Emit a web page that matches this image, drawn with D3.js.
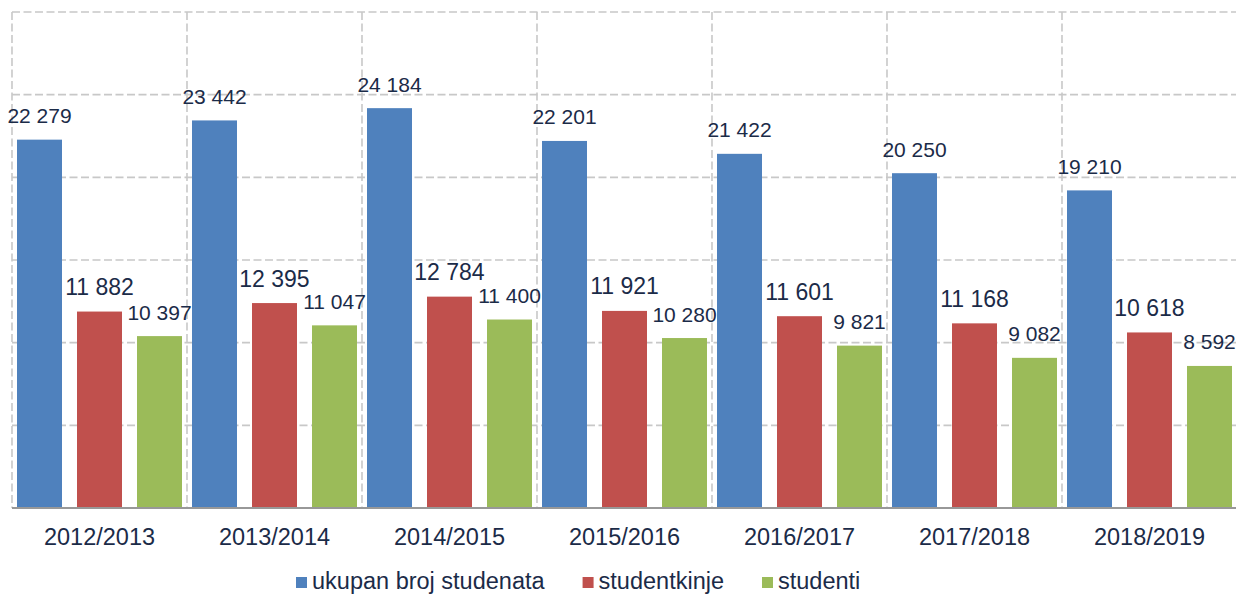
<!DOCTYPE html>
<html>
<head>
<meta charset="utf-8">
<script src="https://cdn.jsdelivr.net/npm/d3@7"></script>
<style>
  body { margin: 0; background: #fff; }
  text { font-family: "Liberation Sans", Arial, sans-serif; fill: #1b2b48; }
</style>
</head>
<body>
<div id="chart"></div>
<script>
// chart data
var categories = ["2012/2013", "2013/2014", "2014/2015", "2015/2016", "2016/2017", "2017/2018", "2018/2019"];
var seriesNames = ["ukupan broj studenata", "studentkinje", "studenti"];
var ukupno = [22279, 23442, 24184, 22201, 21422, 20250, 19210];
var studentkinje = [11882, 12395, 12784, 11921, 11601, 11168, 10618];
var studenti = [10397, 11047, 11400, 10280, 9821, 9082, 8592];
var yTicks = [0, 5000, 10000, 15000, 20000, 25000, 30000];

function init() {
    var w = 1236, h = 594;
    var left = 12, top = 12, right = 1237, bottom = 508;
    var colors = ["#4f81bd", "#c0504d", "#9bbb59"];
    var seriesValues = [ukupno, studentkinje, studenti];
    var labelSizes = ["21px", "23px", "21px"];

    var svg = d3.select("#chart").append("svg")
        .attr("width", w)
        .attr("height", h);

    var x = d3.scaleBand()
        .domain(categories)
        .range([left, right]);

    var xInner = d3.scaleBand()
        .domain(seriesNames)
        .range([5, x.bandwidth() - 5])
        .paddingInner(0.25);

    var y = d3.scaleLinear()
        .domain([0, 30000])
        .range([bottom, top]);

    var fmt = d3.formatLocale({ thousands: " ", grouping: [3], decimal: ",", currency: ["", ""] }).format(",d");

    // dashed grid
    var grid = svg.append("g");
    grid.selectAll("line.h")
        .data(yTicks.slice(1))
        .enter().append("line")
        .attr("x1", left).attr("x2", right)
        .attr("y1", d => y(d)).attr("y2", d => y(d))
        .attr("stroke", "#c8c8c8")
        .attr("stroke-width", 1.6)
        .attr("stroke-dasharray", "8,3.5");
    grid.selectAll("line.v")
        .data(categories.map(c => x(c)).concat([right]))
        .enter().append("line")
        .attr("x1", d => d).attr("x2", d => d)
        .attr("y1", top).attr("y2", bottom)
        .attr("stroke", "#c8c8c8")
        .attr("stroke-width", 1.6)
        .attr("stroke-dasharray", "8,3.5");

    // bars
    seriesNames.forEach(function(name, si) {
        var vals = seriesValues[si];
        var g = svg.append("g");
        g.selectAll("rect")
            .data(categories)
            .enter().append("rect")
            .attr("x", (c) => x(c) + xInner(name))
            .attr("width", xInner.bandwidth())
            .attr("y", (c, i) => y(vals[i]))
            .attr("height", (c, i) => bottom - y(vals[i]))
            .attr("fill", colors[si]);

        g.selectAll("text")
            .data(categories)
            .enter().append("text")
            .attr("x", (c) => x(c) + xInner(name) + xInner.bandwidth() / 2)
            .attr("y", (c, i) => y(vals[i]) - 16.5)
            .attr("text-anchor", "middle")
            .style("font-size", labelSizes[si])
            .text((c, i) => fmt(vals[i]));
    });

    // baseline
    svg.append("line")
        .attr("x1", left).attr("x2", right)
        .attr("y1", bottom).attr("y2", bottom)
        .attr("stroke", "#989898")
        .attr("stroke-width", 2);

    // category labels
    svg.append("g").selectAll("text")
        .data(categories)
        .enter().append("text")
        .attr("x", d => x(d) + x.bandwidth() / 2)
        .attr("y", 545)
        .attr("text-anchor", "middle")
        .style("font-size", "23.5px")
        .text(d => d);

    // legend
    var legend = svg.append("g");
    var lx = 296;
    seriesNames.forEach(function(name, i) {
        legend.append("rect")
            .attr("x", lx).attr("y", 577)
            .attr("width", 11).attr("height", 11)
            .attr("fill", colors[i]);
        var t = legend.append("text")
            .attr("x", lx + 16)
            .attr("y", 589)
            .style("font-size", "23.5px")
            .text(name);
        lx += 16 + t.node().getComputedTextLength() + 38;
    });
}

window.onload = init;
</script>
</body>
</html>
